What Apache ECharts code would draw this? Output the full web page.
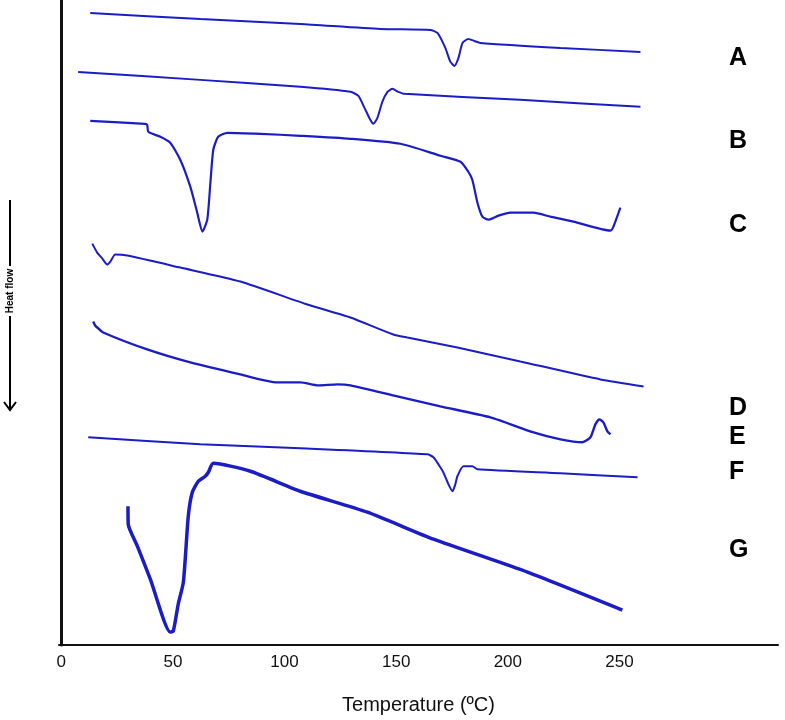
<!DOCTYPE html>
<html>
<head>
<meta charset="utf-8">
<title>DSC thermograms</title>
<script src="https://cdn.jsdelivr.net/npm/echarts@6/dist/echarts.min.js"></script>
<style>
  html, body { margin: 0; padding: 0; background: #fff; }
  #chart { width: 785px; height: 720px; }
</style>
</head>
<body>
<div id="chart"></div>
<script>
// temperature (ºC) and heat flow (arbitrary units, offset per curve)
const tempA = [13.0, 62.3, 107.1, 142.9, 165.3, 168.5, 172.0, 174.3, 176.1, 177.9, 179.7, 182.3, 185.0, 187.7, 223.6, 259.4]
const flowA = [633, 627, 622, 617, 616, 613, 598, 584, 580, 588, 603, 607, 605, 603, 598, 594]

const tempB = [7.6, 62.3, 107.1, 129.5, 133.1, 135.8, 138.4, 139.8, 141.6, 143.8, 146.1, 148.3, 151.0, 153.7, 205.6, 259.4]
const flowB = [574, 566, 559, 554, 550, 538, 526, 522, 528, 544, 554, 557, 554, 552, 546, 539]

const tempC = [13.0, 37.6, 38.5, 39.0, 44.4, 48.8, 53.3, 57.8, 60.9, 63.2, 65.4, 66.8, 68.1, 70.3, 74.4, 89.2, 107.1, 129.5, 151.9, 169.8, 178.8, 182.3, 184.1, 186.4, 188.6, 191.3, 195.8, 201.2, 211.5, 219.1, 229.4, 246.0, 247.3, 250.4]
const flowC = [525, 522, 521, 514, 509, 503, 486, 459, 433, 414, 426, 463, 496, 509, 513, 512, 510, 507, 502, 490, 484, 474, 466, 443, 429, 426, 430, 433, 433, 429, 424, 415, 419, 438]

const tempD = [13.9, 16.1, 18.4, 20.6, 22.0, 24.2, 29.6, 53.3, 80.2, 110.2, 129.5, 148.7, 155.0, 177.4, 205.6, 241.5, 260.8]
const flowD = [402, 393, 387, 381, 384, 391, 390, 378, 364, 341, 328, 311, 308, 298, 284, 266, 259]

const tempE = [14.3, 15.2, 16.1, 18.8, 38.5, 57.8, 80.2, 96.8, 107.1, 115.1, 123.7, 129.5, 150.5, 169.8, 192.2, 211.5, 223.6, 233.4, 237.0, 239.2, 241.0, 242.8, 244.6, 246.0]
const flowE = [324, 320, 318, 313, 296, 283, 271, 263, 263, 260, 261, 260, 249, 239, 228, 213, 206, 203, 208, 221, 226, 223, 214, 211]

const tempF = [12.1, 62.3, 107.1, 164.0, 166.7, 168.9, 171.1, 173.4, 175.2, 176.5, 177.4, 180.1, 184.1, 186.4, 223.6, 258.1]
const flowF = [208, 201, 197, 191, 188, 181, 173, 161, 154, 161, 169, 179, 179, 176, 172, 168]

const tempG = [29.9, 30.0, 34.1, 39.9, 48.8, 50.2, 52.4, 54.7, 56.9, 58.7, 61.4, 64.5, 65.9, 68.1, 84.7, 107.1, 137.1, 166.7, 208.8, 251.3]
const flowG = [139, 121, 99, 66, 13, 14, 41, 63, 129, 153, 164, 169, 173, 182, 174, 154, 133, 106, 73, 35]

const tickLabels = [0, 50, 100, 150, 200, 250]
const curveNames = ['A', 'B', 'C', 'D', 'E', 'F', 'G']

const blue = '#1c1cc4'
const font = 'Liberation Sans, Arial, sans-serif'

function zip(xs, ys) {
  return xs.map((x, i) => [x, ys[i]])
}

const curves = [
  { name: 'A', data: zip(tempA, flowA), width: 2 },
  { name: 'B', data: zip(tempB, flowB), width: 2 },
  { name: 'C', data: zip(tempC, flowC), width: 2.2 },
  { name: 'D', data: zip(tempD, flowD), width: 2 },
  { name: 'E', data: zip(tempE, flowE), width: 2.4 },
  { name: 'F', data: zip(tempF, flowF), width: 2 },
  { name: 'G', data: zip(tempG, flowG), width: 3.5 }
]

// letter positions beside each trace
const letterY = [58, 141, 225, 408, 437, 472, 550]

const chart = echarts.init(document.getElementById('chart'))

chart.setOption({
  animation: false,
  backgroundColor: '#fff',
  grid: { left: 59, right: 7, top: 0, bottom: 74 },
  xAxis: {
    type: 'value',
    min: -1,
    max: 321,
    name: 'Temperature (ºC)',
    nameLocation: 'middle',
    nameGap: 50,
    nameTextStyle: { fontFamily: font, fontSize: 20, color: '#111' },
    axisLine: { lineStyle: { color: '#111', width: 2 } },
    axisTick: { show: false },
    splitLine: { show: false },
    axisLabel: {
      customValues: tickLabels,
      margin: 9,
      fontFamily: font,
      fontSize: 17,
      color: '#111'
    }
  },
  yAxis: {
    type: 'value',
    min: 0,
    max: 646,
    axisLine: { show: true, lineStyle: { color: '#111', width: 3 } },
    axisTick: { show: false },
    axisLabel: { show: false },
    splitLine: { show: false }
  },
  series: curves.map(c => ({
    name: c.name,
    type: 'line',
    data: c.data,
    showSymbol: false,
    smooth: 0.2,
    lineStyle: { color: blue, width: c.width },
    itemStyle: { color: blue }
  })),
  graphic: [
    ...curveNames.map((n, i) => ({
      type: 'text',
      left: 729,
      top: letterY[i] - 12,
      style: { text: n, fontFamily: font, fontSize: 25, fontWeight: 'bold', fill: '#000' }
    })),
    // "Heat flow" arrow on the left
    { type: 'line', shape: { x1: 10, y1: 200, x2: 10, y2: 266 }, style: { stroke: '#000', lineWidth: 2 } },
    { type: 'line', shape: { x1: 10, y1: 316, x2: 10, y2: 410 }, style: { stroke: '#000', lineWidth: 2 } },
    { type: 'polyline', shape: { points: [[4, 402], [10, 410], [16, 402]] }, style: { stroke: '#000', lineWidth: 2, fill: null } },
    {
      type: 'text',
      x: 10,
      y: 291,
      rotation: Math.PI / 2,
      style: { text: 'Heat flow', fontFamily: font, fontSize: 10, fontWeight: 'bold', fill: '#000', align: 'center', verticalAlign: 'middle' }
    }
  ]
})
</script>
</body>
</html>
